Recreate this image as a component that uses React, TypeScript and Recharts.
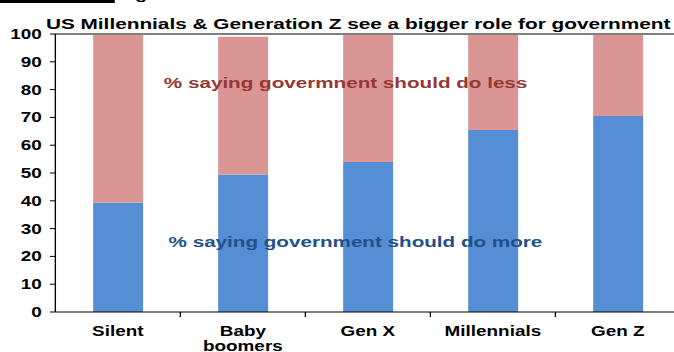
import { BarChart, Bar, XAxis, YAxis, ReferenceLine } from "recharts";

const categories = ["Silent", "Baby boomers", "Gen X", "Millennials", "Gen Z"];
const tickLines = [["Silent"], ["Baby", "boomers"], ["Gen X"], ["Millennials"], ["Gen Z"]];
const doMore = [39.4, 49.5, 54, 65.5, 70.5];
const doLess = [60.6, 49.5, 46, 34.5, 29.5];
const yTicks = [0, 10, 20, 30, 40, 50, 60, 70, 80, 90, 100];

const titleText = "US Millennials & Generation Z see a bigger role for government";
const lessText = "% saying govermnent should do less";
const moreText = "% saying government should do more";

const FONT = "'Liberation Sans', Arial, Helvetica, sans-serif";
// the reference is stretched sideways, so the chart is drawn narrow and widened
const STRETCH = 1.35;

const rows = categories.map((name, i) => ({ name, more: doMore[i], less: doLess[i] }));

function CategoryTick(props: any) {
  const { x, y, payload } = props;
  const half = payload.offset ?? 46.3;
  const lines = tickLines[payload.index] ?? [payload.value];
  return (
    <g>
      <line x1={x + half} x2={x + half} y1={y} y2={y + 5} stroke="#000" />
      <text x={x} y={y + 24} textAnchor="middle" fontFamily={FONT} fontWeight="bold" fontSize={14} fill="#000">
        {lines.map((l: string, i: number) => (
          <tspan key={i} x={x} dy={i === 0 ? 0 : 15}>{l}</tspan>
        ))}
      </text>
    </g>
  );
}

export default function App() {
  return (
    <div style={{ position: "absolute", left: 0, top: 0, width: 674, height: 352, overflow: "hidden", background: "#fff" }}>
      <div style={{ position: "relative", width: 510, height: 352, transform: `scaleX(${STRETCH})`, transformOrigin: "0 0" }}>
        <BarChart width={510} height={352} data={rows} margin={{ top: 34, right: 6, bottom: 0, left: 0 }} barSize={37}>
          <XAxis
            dataKey="name"
            interval={0}
            height={40}
            tickLine={false}
            tickSize={0}
            tickMargin={0}
            axisLine={{ stroke: "#000" }}
            tick={<CategoryTick />}
          />
          <YAxis
            width={41}
            domain={[0, 100]}
            ticks={yTicks}
            interval={0}
            tickSize={4}
            tickMargin={6}
            axisLine={{ stroke: "#000" }}
            tickLine={{ stroke: "#000" }}
            tick={{ fill: "#000", fontSize: 14, fontWeight: "bold", fontFamily: FONT }}
          />
          <ReferenceLine y={100} stroke="#7f7f7f" strokeWidth={2} />
          <Bar dataKey="more" stackId="a" fill="#558ED5" isAnimationActive={false} />
          <Bar dataKey="less" stackId="a" fill="#D99694" isAnimationActive={false} />
        </BarChart>
        <svg width={510} height={352} style={{ position: "absolute", left: 0, top: 0, pointerEvents: "none" }}>
          <rect x={0} y={0} width={85} height={3} fill="#000" />
          <text x={100} y={-1} fontFamily={FONT} fontWeight="bold" fontSize={15} fill="#000">g</text>
          <text x={34} y={29} fontFamily={FONT} fontWeight="bold" fontSize={15.4} fill="#000">{titleText}</text>
          <text x={256} y={88} textAnchor="middle" fontFamily={FONT} fontWeight="bold" fontSize={15.3} fill="#953735">{lessText}</text>
          <text x={263.3} y={247} textAnchor="middle" fontFamily={FONT} fontWeight="bold" fontSize={15.3} fill="#22508A">{moreText}</text>
        </svg>
      </div>
    </div>
  );
}
